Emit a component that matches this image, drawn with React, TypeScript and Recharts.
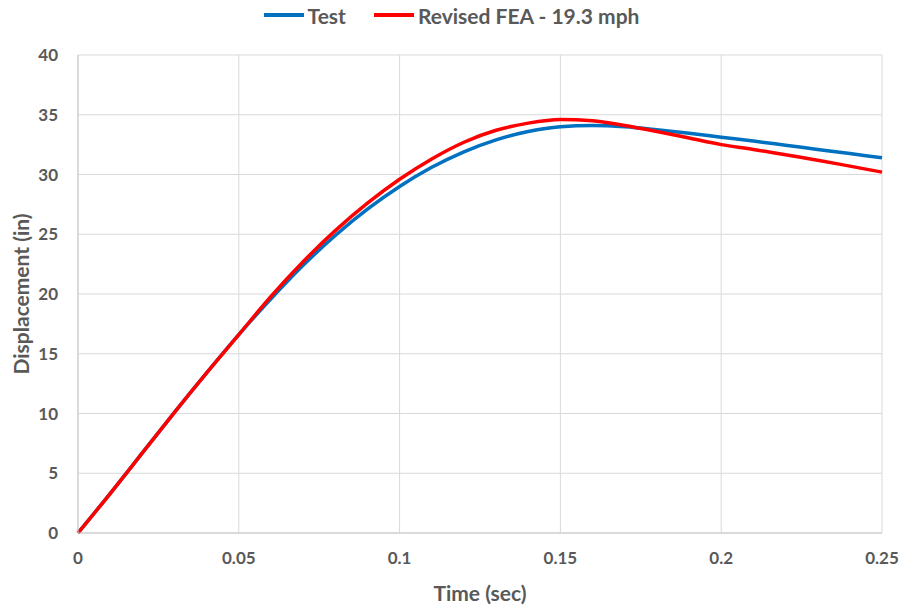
import { LineChart, Line, XAxis, YAxis, CartesianGrid, Legend } from 'recharts';

const times = [
  0, 0.01, 0.02, 0.03, 0.04, 0.05, 0.06, 0.07, 0.08, 0.09, 0.1, 0.11, 0.12,
  0.13, 0.14, 0.15, 0.16, 0.17, 0.18, 0.19, 0.2, 0.21, 0.22, 0.23, 0.24, 0.25,
];
const testDisp = [
  0, 3.3, 6.7, 10.1, 13.4, 16.6, 19.6, 22.4, 24.9, 27.1, 29.0, 30.6, 31.9,
  32.9, 33.6, 34.0, 34.1, 34.0, 33.75, 33.45, 33.12, 32.8, 32.45, 32.1, 31.75, 31.4,
];
const feaDisp = [
  0, 3.3, 6.7, 10.1, 13.4, 16.6, 19.8, 22.7, 25.3, 27.6, 29.6, 31.3, 32.7,
  33.7, 34.3, 34.6, 34.5, 34.1, 33.6, 33.05, 32.5, 32.1, 31.65, 31.2, 30.7, 30.2,
];
const xTicks = [0, 0.05, 0.1, 0.15, 0.2, 0.25];
const yTicks = [0, 5, 10, 15, 20, 25, 30, 35, 40];

const seriesNames = ['Test', 'Revised FEA - 19.3 mph'];
const seriesColors = ['#0070C0', '#FF0000'];

const data = times.map((t, i) => ({ t, test: testDisp[i], fea: feaDisp[i] }));

const FONT = 'Lato, "Open Sans", sans-serif';
const TEXT = '#595959';

function ChartLegend() {
  return (
    <div
      style={{
        height: 30,
        display: 'flex',
        justifyContent: 'center',
        alignItems: 'center',
        fontFamily: FONT,
        fontWeight: 700,
        fontSize: 21,
        color: TEXT,
      }}
    >
      {seriesNames.map((name, i) => (
        <div key={name} style={{ display: 'flex', alignItems: 'center', marginRight: i === 0 ? 28 : 0 }}>
          <span style={{ display: 'inline-block', width: 40, height: 4, background: seriesColors[i], marginRight: 4 }} />
          <span>{name}</span>
        </div>
      ))}
    </div>
  );
}

function YTitle({ viewBox }: any) {
  const cx = viewBox.x + 20;
  const cy = viewBox.y + viewBox.height / 2;
  return (
    <text
      x={cx}
      y={cy}
      transform={`rotate(-90, ${cx}, ${cy})`}
      textAnchor="middle"
      dominantBaseline="central"
      fill={TEXT}
      fontFamily={FONT}
      fontWeight={700}
      fontSize={21}
    >
      Displacement (in)
    </text>
  );
}

export default function App() {
  return (
    <div style={{ position: 'absolute', left: 0, top: 0, background: '#fff' }}>
      <LineChart width={903} height={606} data={data} margin={{ top: 25, right: 21, left: 0, bottom: 0 }}>
        <CartesianGrid stroke="#d9d9d9" strokeWidth={1} />
        <XAxis
          dataKey="t"
          type="number"
          domain={[0, 0.25]}
          ticks={xTicks}
          height={73}
          tickLine={false}
          tickSize={8}
          tickMargin={11}
          axisLine={{ stroke: '#c8c8c8' }}
          tick={{ fill: TEXT, fontFamily: FONT, fontWeight: 700, fontSize: 17 }}
          label={{
            value: 'Time (sec)',
            position: 'insideBottom',
            offset: 5,
            fill: TEXT,
            fontFamily: FONT,
            fontWeight: 700,
            fontSize: 21,
          }}
        />
        <YAxis
          type="number"
          domain={[0, 40]}
          ticks={yTicks}
          width={78}
          tickLine={false}
          tickSize={8}
          tickMargin={12}
          axisLine={{ stroke: '#c8c8c8' }}
          tick={{ fill: TEXT, fontFamily: FONT, fontWeight: 700, fontSize: 17 }}
          label={<YTitle />}
        />
        <Legend verticalAlign="top" content={<ChartLegend />} wrapperStyle={{ top: 0, left: 0, width: 903 }} />
        <Line
          dataKey="test"
          name={seriesNames[0]}
          type="monotone"
          stroke={seriesColors[0]}
          strokeWidth={3.5}
          dot={false}
          isAnimationActive={false}
        />
        <Line
          dataKey="fea"
          name={seriesNames[1]}
          type="monotone"
          stroke={seriesColors[1]}
          strokeWidth={3.5}
          dot={false}
          isAnimationActive={false}
        />
      </LineChart>
    </div>
  );
}
